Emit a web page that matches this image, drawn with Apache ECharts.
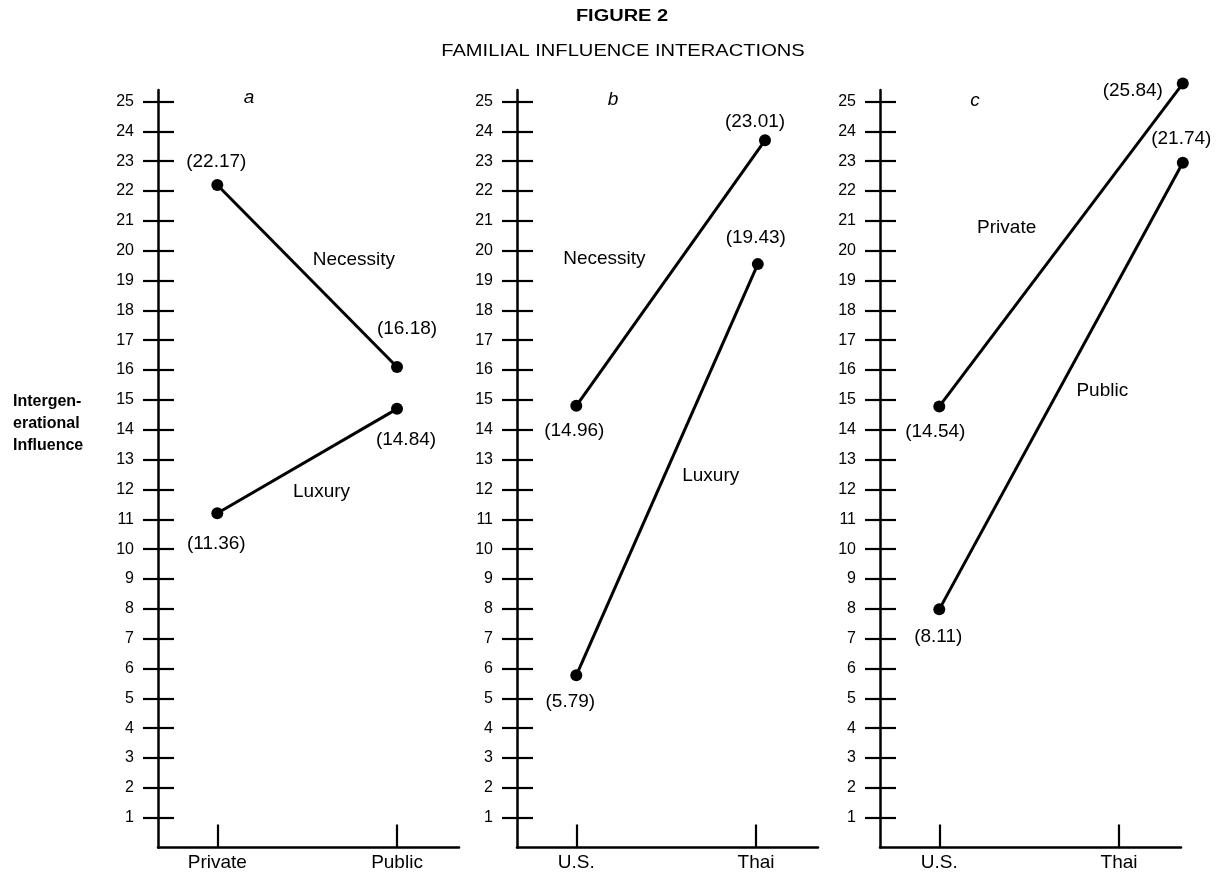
<!DOCTYPE html>
<html><head><meta charset="utf-8">
<script src="https://cdn.jsdelivr.net/npm/echarts@6/dist/echarts.min.js"></script>
<style>html,body{margin:0;padding:0;background:#fff}#c{width:1217px;height:875px}</style>
</head><body><div id="c"></div>
<script>
// ---- data ----
const yTicks = [1,2,3,4,5,6,7,8,9,10,11,12,13,14,15,16,17,18,19,20,21,22,23,24,25];
const catsA = ['Private', 'Public'];
const catsB = ['U.S.', 'Thai'];
const catsC = ['U.S.', 'Thai'];

// panel a
const aNecessityX = [0, 1];
const aNecessity = [22.2, 16.1];
const aNecessityText = ['(22.17)', '(16.18)'];
const aLuxuryX = [0, 1];
const aLuxury = [11.2, 14.7];
const aLuxuryText = ['(11.36)', '(14.84)'];
// panel b
const bNecessityX = [0, 1.05];
const bNecessity = [14.8, 23.7];
const bNecessityText = ['(14.96)', '(23.01)'];
const bLuxuryX = [0, 1.01];
const bLuxury = [5.77, 19.55];
const bLuxuryText = ['(5.79)', '(19.43)'];
// panel c
const cPrivateX = [0, 1.355];
const cPrivate = [14.78, 25.6];
const cPrivateText = ['(14.54)', '(25.84)'];
const cPublicX = [0, 1.355];
const cPublic = [7.98, 22.95];
const cPublicText = ['(8.11)', '(21.74)'];

// ---- layout / style ----
const FONT = '"Liberation Sans", Arial, Helvetica, sans-serif';
const X_MIN = -0.33, X_MAX = 1.345;
const Y_MAX = 25.385;
const lefts = [158, 517, 880];
const catsAll = [catsA, catsB, catsC];
const black = '#000';

const grid = lefts.map(l => ({left: l, top: 90, width: 301, height: 757.5}));

const xAxis = catsAll.map((cats, i) => ({
  type: 'value', gridIndex: i, min: X_MIN, max: X_MAX,
  axisLine: {show: true, onZero: false, lineStyle: {color: black, width: 2.5}},
  axisTick: {show: true, customValues: [0, 1], inside: true, length: 23, lineStyle: {color: black, width: 2.2}},
  axisLabel: {customValues: [0, 1], formatter: v => cats[Math.round(v)], fontSize: 19, color: black, margin: 6, fontFamily: FONT},
  splitLine: {show: false}
}));

const yAxis = [];
lefts.forEach((l, i) => {
  yAxis.push({
    type: 'value', gridIndex: i, min: 0, max: Y_MAX, position: 'left',
    axisLine: {show: true, onZero: false, lineStyle: {color: black, width: 2.5}},
    axisTick: {show: true, customValues: yTicks, length: 15, lineStyle: {color: black, width: 2.2}},
    axisLabel: {customValues: yTicks, fontSize: 16, color: black, margin: 24, fontFamily: FONT},
    splitLine: {show: false}
  });
  yAxis.push({
    type: 'value', gridIndex: i, min: 0, max: Y_MAX, position: 'left',
    axisLine: {show: false, onZero: false},
    axisTick: {show: true, inside: true, customValues: yTicks, length: 16, lineStyle: {color: black, width: 2.2}},
    axisLabel: {show: false},
    splitLine: {show: false}
  });
});

function lineSeries(panel, xs, ys, texts, offsets, nameLabel) {
  return {
    type: 'line', xAxisIndex: panel, yAxisIndex: panel * 2,
    data: ys.map((y, k) => ({
      value: [xs[k], y],
      label: {show: true, position: 'inside', offset: offsets[k], formatter: texts[k]}
    })),
    symbol: 'circle', symbolSize: 12, showSymbol: true, clip: false, silent: true,
    lineStyle: {color: black, width: 3},
    itemStyle: {color: black},
    label: {color: black, fontSize: 19, fontFamily: FONT},
    emphasis: {disabled: true},
    markPoint: {
      symbol: 'circle', symbolSize: 2, silent: true,
      itemStyle: {color: 'rgba(0,0,0,0)'},
      label: {show: true, position: 'inside', color: black, fontSize: 19, fontFamily: FONT, formatter: nameLabel.text},
      data: [{coord: nameLabel.coord}]
    }
  };
}

const series = [
  lineSeries(0, aNecessityX, aNecessity, aNecessityText, [[-1, -23], [10, -38]], {text: 'Necessity', coord: [0.76, 19.68]}),
  lineSeries(0, aLuxuryX, aLuxury, aLuxuryText, [[-1, 30], [9, 31]], {text: 'Luxury', coord: [0.58, 11.92]}),
  lineSeries(1, bNecessityX, bNecessity, bNecessityText, [[-2, 25], [-10, -19]], {text: 'Necessity', coord: [0.156, 19.73]}),
  lineSeries(1, bLuxuryX, bLuxury, bLuxuryText, [[-6, 26], [-2, -26]], {text: 'Luxury', coord: [0.748, 12.45]}),
  lineSeries(2, cPrivateX, cPrivate, cPrivateText, [[-4, 25], [-50, 7]], {text: 'Private', coord: [0.375, 20.77]}),
  lineSeries(2, cPublicX, cPublic, cPublicText, [[-1, 27], [-1.5, -24]], {text: 'Public', coord: [0.907, 15.32]})
];

const graphic = [
  {type: 'text', x: 622, y: 17, scaleX: 1.25, silent: true,
   style: {text: 'FIGURE 2', font: 'bold 16px ' + FONT, fill: black, textAlign: 'center', textVerticalAlign: 'middle'}},
  {type: 'text', x: 623, y: 51, scaleX: 1.22, silent: true,
   style: {text: 'FAMILIAL INFLUENCE INTERACTIONS', font: '16.5px ' + FONT, fill: black, textAlign: 'center', textVerticalAlign: 'middle'}},
  {type: 'text', x: 13, y: 424, silent: true,
   style: {text: 'Intergen-\nerational\nInfluence', font: 'bold 16px ' + FONT, lineHeight: 22, fill: black, textAlign: 'left', textVerticalAlign: 'middle'}},
  {type: 'text', x: 249, y: 98, silent: true,
   style: {text: 'a', font: 'italic 19px ' + FONT, fill: black, textAlign: 'center', textVerticalAlign: 'middle'}},
  {type: 'text', x: 613, y: 100, silent: true,
   style: {text: 'b', font: 'italic 19px ' + FONT, fill: black, textAlign: 'center', textVerticalAlign: 'middle'}},
  {type: 'text', x: 975, y: 101, silent: true,
   style: {text: 'c', font: 'italic 19px ' + FONT, fill: black, textAlign: 'center', textVerticalAlign: 'middle'}}
];

const chart = echarts.init(document.getElementById('c'), null, {renderer: 'canvas'});
chart.setOption({
  animation: false,
  backgroundColor: '#fff',
  grid, xAxis, yAxis, series, graphic
});
</script>
</body></html>
